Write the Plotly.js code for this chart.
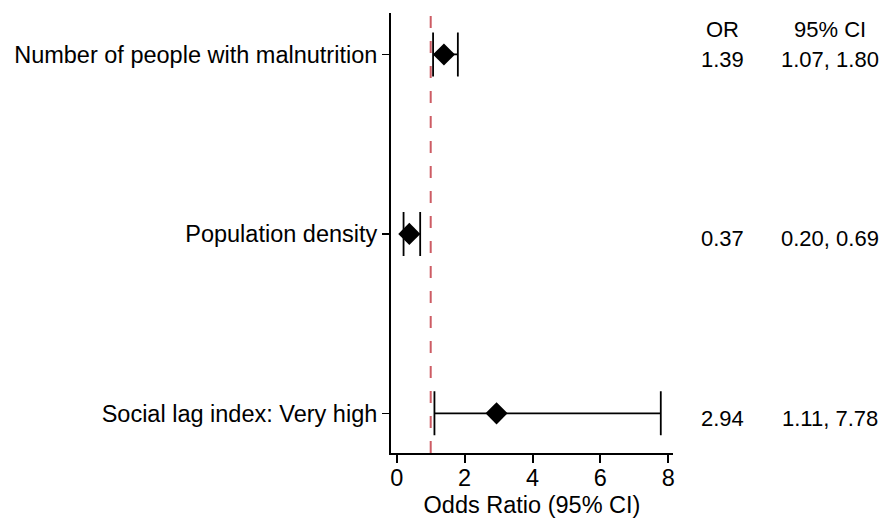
<!DOCTYPE html>
<html>
<head>
<meta charset="utf-8">
<script src="https://cdn.plot.ly/plotly-3.0.1.min.js"></script>
<style>html,body{margin:0;padding:0;background:#fff;}#chart{width:882px;height:521px;}</style>
</head>
<body>
<div id="chart"></div>
<script>
// Data
const labels = ["Number of people with malnutrition", "Population density", "Social lag index: Very high"];
const oddsRatio = [1.39, 0.37, 2.94];
const ciLow = [1.07, 0.20, 1.11];
const ciHigh = [1.80, 0.69, 7.78];
const xTicks = [0, 2, 4, 6, 8];
const refValue = 1;
const headerOR = "OR";
const headerCI = "95% CI";

const FONT = "Arial, 'Liberation Sans', sans-serif";
const SZ = 23.5;
const SZR = 22;

const trace = {
  type: "scatter",
  mode: "markers",
  x: oddsRatio,
  y: labels,
  marker: {symbol: "diamond", size: 17, color: "#000"},
  error_x: {
    type: "data",
    symmetric: false,
    array: oddsRatio.map((v, i) => ciHigh[i] - v),
    arrayminus: oddsRatio.map((v, i) => v - ciLow[i]),
    color: "#000",
    thickness: 1.8,
    width: 22
  },
  hoverinfo: "skip",
  showlegend: false
};

const annotations = [];
annotations.push({xref: "paper", yref: "paper", x: 1.177, y: 0.963, text: headerOR, showarrow: false, xanchor: "center", yanchor: "middle", font: {family: FONT, size: SZR, color: "#000"}});
annotations.push({xref: "paper", yref: "paper", x: 1.556, y: 0.963, text: headerCI, showarrow: false, xanchor: "center", yanchor: "middle", font: {family: FONT, size: SZR, color: "#000"}});
labels.forEach((lab, i) => {
  annotations.push({xref: "paper", yref: "y", x: 1.177, y: i, yshift: -5, text: oddsRatio[i].toFixed(2), showarrow: false, xanchor: "center", yanchor: "middle", font: {family: FONT, size: SZR, color: "#000"}});
  annotations.push({xref: "paper", yref: "y", x: 1.556, y: i, yshift: -5, text: ciLow[i].toFixed(2) + ", " + ciHigh[i].toFixed(2), showarrow: false, xanchor: "center", yanchor: "middle", font: {family: FONT, size: SZR, color: "#000"}});
});

const layout = {
  width: 882,
  height: 521,
  margin: {l: 391, r: 209, t: 13, b: 68},
  paper_bgcolor: "#fff",
  plot_bgcolor: "#fff",
  font: {family: FONT, size: SZ, color: "#000"},
  xaxis: {
    range: [-0.17, 8.14],
    tickvals: xTicks,
    ticktext: xTicks.map(String),
    showgrid: false,
    zeroline: false,
    showline: true,
    linecolor: "#000",
    linewidth: 2,
    ticks: "outside",
    ticklen: 8,
    tickwidth: 2,
    tickcolor: "#000",
    ticklabelstandoff: -5,
    tickfont: {family: FONT, size: SZ, color: "#000"},
    title: {text: "Odds Ratio (95% CI)", font: {family: FONT, size: SZ, color: "#000"}, standoff: 6}
  },
  yaxis: {
    type: "category",
    categoryorder: "array",
    categoryarray: labels,
    range: [2.221, -0.231],
    showgrid: false,
    zeroline: false,
    showline: true,
    linecolor: "#000",
    linewidth: 2,
    ticks: "outside",
    ticklen: 7,
    tickwidth: 1.5,
    tickcolor: "#000",
    tickfont: {family: FONT, size: SZ, color: "#000"}
  },
  shapes: [{
    type: "line",
    xref: "x", yref: "paper",
    x0: refValue, x1: refValue, y0: 0, y1: 1,
    line: {color: "#cd5c64", width: 2, dash: "12px,13px"},
    layer: "below"
  }],
  annotations: annotations
};

Plotly.newPlot("chart", [trace], layout, {displayModeBar: false, staticPlot: true});
</script>
</body>
</html>
